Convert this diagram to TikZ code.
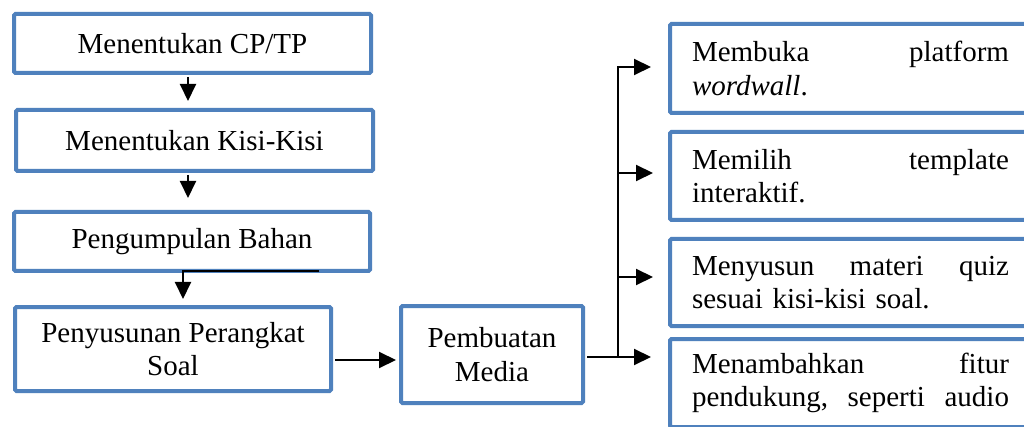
\documentclass[tikz,border=0pt]{standalone}
\usepackage{fontspec}
\setmainfont{Liberation Serif}
\usetikzlibrary{arrows.meta}
\definecolor{boxblue}{HTML}{4F81BD}
\newcommand\diagfont{\fontsize{29pt}{33.5pt}\selectfont}
\newcommand\jline[1]{\hbox to 317pt{#1}}
\begin{document}
\begin{tikzpicture}[x=1pt,y=-1pt,
  box/.style={draw=boxblue, line width=4pt, rounded corners=1.5pt, inner sep=0pt, align=center, font=\diagfont},
  rbox/.style={draw=boxblue, line width=4pt, rounded corners=1.5pt, inner xsep=22pt, inner ysep=0pt,
    text width=317pt, align=left, anchor=west, font=\diagfont},
  arr/.style={line width=2pt, -{Triangle[length=17pt,width=16pt]}},
  conn/.style={line width=2pt}]
\path[use as bounding box] (0,0) rectangle (1024,427);
\clip (0,0) rectangle (1024,427);
\fill[white] (0,0) rectangle (1024,427);

% left column
\node[box, minimum width=357pt, minimum height=59pt] (b1) at (192.5,43.5) {Menentukan CP/TP};
\node[box, minimum width=357pt, minimum height=61pt] (b2) at (194.5,140.5) {Menentukan Kisi-Kisi};
\node[box, minimum width=356pt, minimum height=59pt] (b3) at (192,241.5) {Pengumpulan Bahan};
\node[box, minimum width=316pt, minimum height=84pt] (b4) at (173,349) {Penyusunan Perangkat\\Soal};
\node[box, minimum width=182pt, minimum height=97pt] (b5) at (492,354.5) {Pembuatan\\Media};

% right column
\node[rbox, minimum height=89pt] (r1) at (668,68.5) {\jline{Membuka\hfill platform}\\\textit{wordwall}.};
\node[rbox, minimum height=88pt] (r2) at (668,176) {\jline{Memilih\hfill template}\\interaktif.};
\node[rbox, minimum height=87pt] (r3) at (668,282.5) {\jline{Menyusun\hfill materi\hfill quiz}\\sesuai kisi-kisi soal.};
\node[rbox, minimum height=88pt] (r4) at (668,383) {\jline{Menambahkan\hfill fitur}\\\jline{pendukung,\hfill seperti\hfill audio}};

% helper coordinates
\coordinate (ax) at (188,0);
\coordinate (k1) at (319,271.5);
\coordinate (k2) at (183,271.5);
\coordinate (y4) at (0,360);
\coordinate (v) at (618,0);
\coordinate (ya1) at (0,67);
\coordinate (ya2) at (0,173);
\coordinate (ya3) at (0,277);
\coordinate (yb) at (0,357);

% connectors
\draw[arr, shorten <=2pt, shorten >=7pt] (b1.south -| ax) -- (b2.north -| ax);
\draw[arr, shorten <=2pt, shorten >=12pt] (b2.south -| ax) -- (b3.north -| ax);
\draw[arr, shorten >=6pt] (k1) -- (k2) -- (k2 |- b4.north);
\draw[arr, shorten <=2pt, shorten >=3pt] (b4.east |- y4) -- (b5.west |- y4);
\draw[arr, shorten >=17pt] (v |- yb) -- (v |- ya1) -- (r1.west |- ya1);
\draw[arr, shorten >=15pt] (v |- ya2) -- (r2.west |- ya2);
\draw[arr, shorten >=15pt] (v |- ya3) -- (r3.west |- ya3);
\draw[arr, shorten <=2pt, shorten >=17pt] (b5.east |- yb) -- (r4.west |- yb);
\end{tikzpicture}
\end{document}
